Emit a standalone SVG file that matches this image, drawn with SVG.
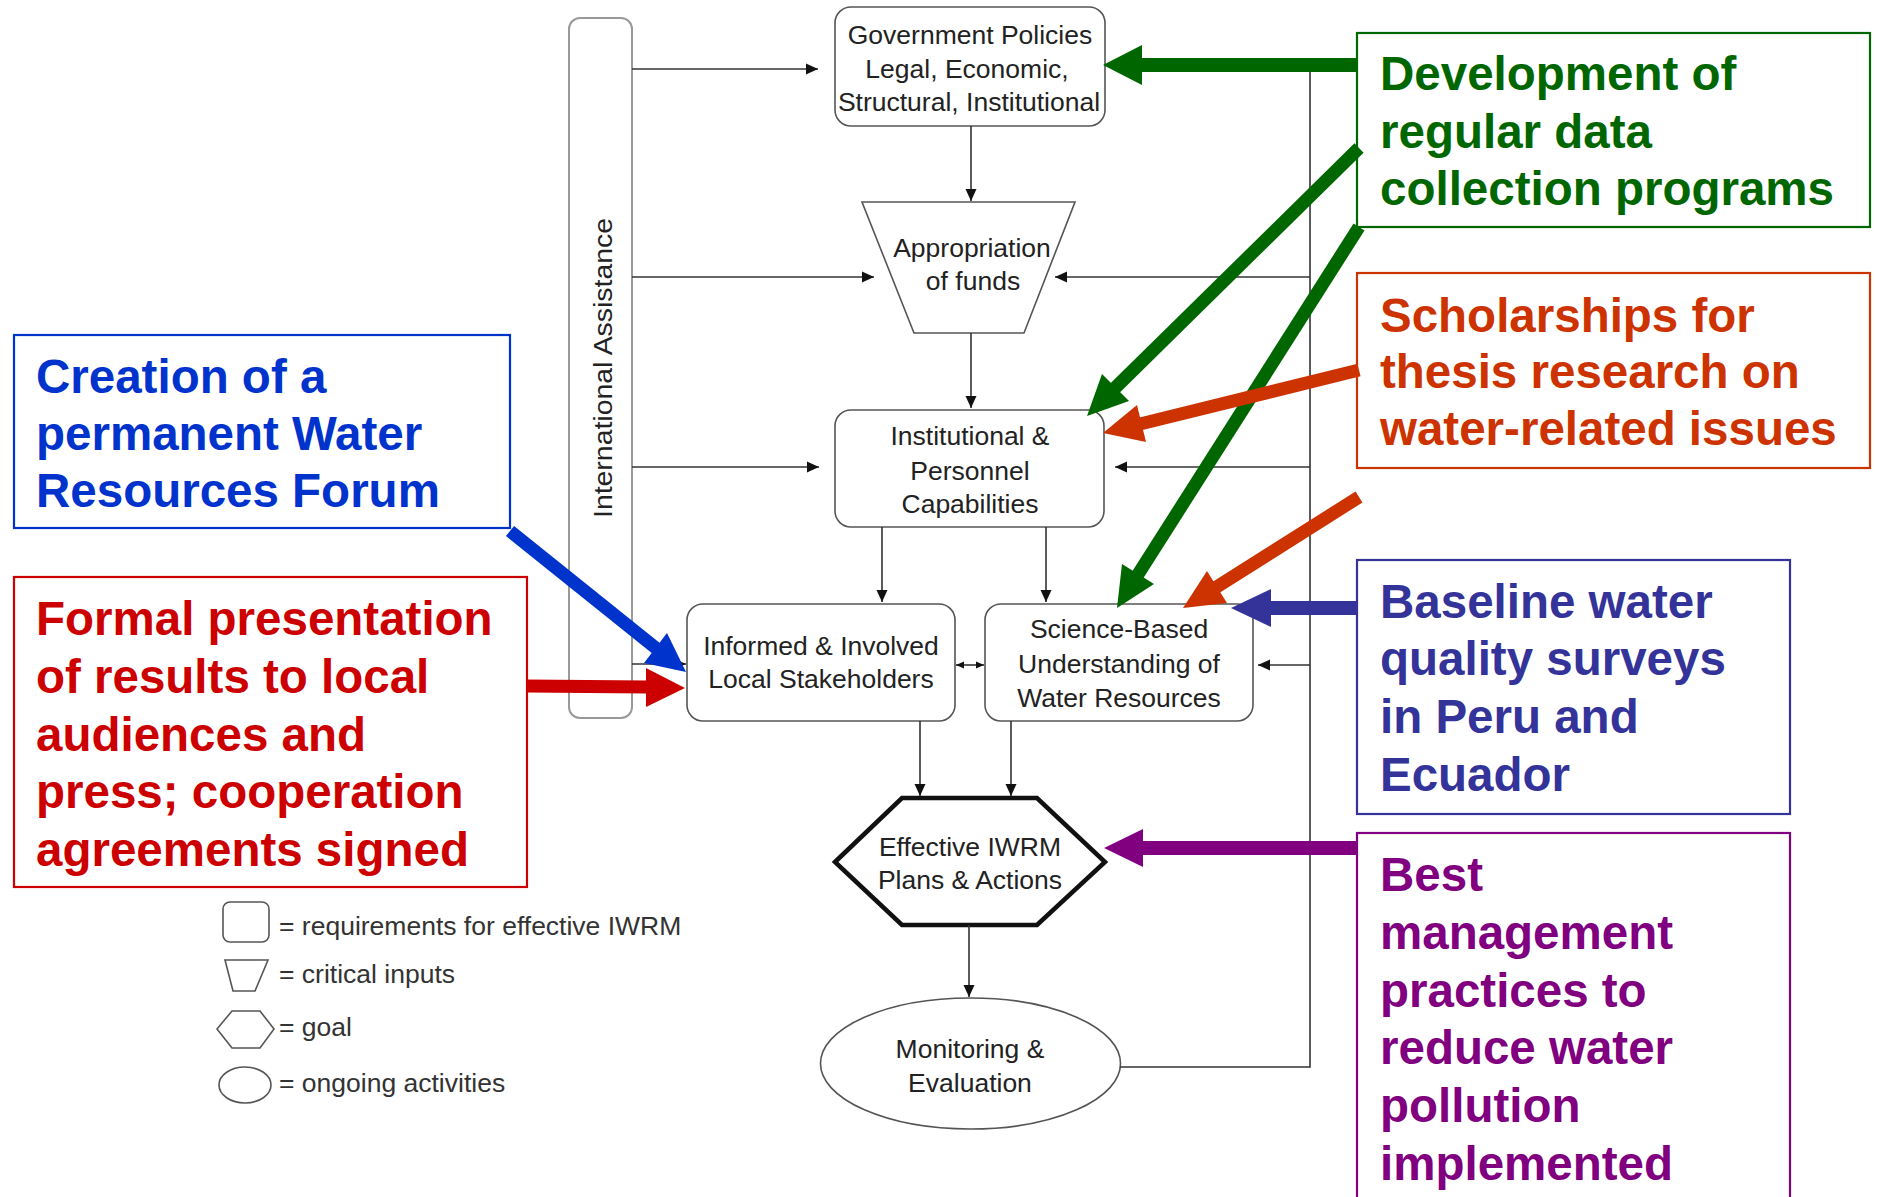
<svg xmlns="http://www.w3.org/2000/svg" width="1877" height="1197" viewBox="0 0 1877 1197">
<style>
.box{fill:#fff;stroke:#555;stroke-width:1.6}
.t{font-family:"Liberation Sans",Arial,sans-serif;font-size:26.5px;fill:#222;text-anchor:middle}
.lt{font-family:"Liberation Sans",Arial,sans-serif;font-size:26.5px;fill:#333}
.lg{fill:#fff;stroke:#555;stroke-width:1.6}
.con{stroke:#333;stroke-width:1.6;fill:none}
.b{font-family:"Liberation Sans",Arial,sans-serif;font-size:47.5px;font-weight:bold}
.nb{fill:#fff;stroke-width:2.2}
</style>
<defs>
<marker id="ah" markerUnits="userSpaceOnUse" markerWidth="12" markerHeight="12" viewBox="0 0 12 12" refX="12" refY="6" orient="auto">
<path d="M0,0.5 L12,6 L0,11.5 z" fill="#111"/>
</marker>
<marker id="ahs" markerUnits="userSpaceOnUse" markerWidth="8" markerHeight="8" viewBox="0 0 8 8" refX="8" refY="4" orient="auto-start-reverse">
<path d="M0,0.5 L8,4 L0,7.5 z" fill="#111"/>
</marker>
</defs>
<rect width="1877" height="1197" fill="#fff"/>

<g id="intl-assistance">
<rect x="569" y="18" width="63" height="700" rx="11" fill="#fff" stroke="#999" stroke-width="2"/>
<text class="t" transform="translate(612,368) rotate(-90)" textLength="300" lengthAdjust="spacingAndGlyphs" style="font-size:26px">International Assistance</text>
</g>

<g id="gov-policies">
<rect class="box" x="835" y="7" width="270" height="119" rx="16"/>
<text class="t" x="970" y="44">Government Policies</text>
<text class="t" x="967" y="78">Legal, Economic,</text>
<text class="t" x="969" y="111">Structural, Institutional</text>
</g>

<g id="appropriation">
<polygon class="box" points="862,202 1075,202 1024,333 914,333"/>
<text class="t" x="972" y="257">Appropriation</text>
<text class="t" x="973" y="290">of funds</text>
</g>

<g id="institutional">
<rect class="box" x="835" y="410" width="269" height="117" rx="16"/>
<text class="t" x="970" y="445">Institutional &amp;</text>
<text class="t" x="970" y="480">Personnel</text>
<text class="t" x="970" y="513">Capabilities</text>
</g>

<g id="informed">
<rect class="box" x="687" y="604" width="268" height="117" rx="16"/>
<text class="t" x="821" y="655">Informed &amp; Involved</text>
<text class="t" x="821" y="688">Local Stakeholders</text>
</g>

<g id="science">
<rect class="box" x="985" y="604" width="268" height="117" rx="16"/>
<text class="t" x="1119" y="638">Science-Based</text>
<text class="t" x="1119" y="673">Understanding of</text>
<text class="t" x="1119" y="707">Water Resources</text>
</g>

<g id="iwrm">
<polygon points="835,862 902,798 1037,798 1105,862 1037,925 902,925" fill="#fff" stroke="#111" stroke-width="4.5" stroke-linejoin="miter"/>
<text class="t" x="970" y="856">Effective IWRM</text>
<text class="t" x="970" y="889">Plans &amp; Actions</text>
</g>

<g id="monitoring">
<ellipse class="box" cx="970.5" cy="1063.5" rx="150" ry="65.5"/>
<text class="t" x="970" y="1058">Monitoring &amp;</text>
<text class="t" x="970" y="1092">Evaluation</text>
</g>

<g id="legend">
<rect class="lg" x="223" y="902" width="46" height="40" rx="7"/>
<text class="lt" x="279" y="935">= requirements for effective IWRM</text>
<polygon class="lg" points="225,960 268,960 255,991 233,991"/>
<text class="lt" x="279" y="983">= critical inputs</text>
<polygon class="lg" points="217,1029 232,1011 260,1011 274,1029 260,1048 232,1048"/>
<text class="lt" x="279" y="1036">= goal</text>
<ellipse class="lg" cx="245" cy="1085" rx="26" ry="18"/>
<text class="lt" x="279" y="1092">= ongoing activities</text>
</g>

<g id="connectors">
<line class="con" x1="632" y1="69" x2="818" y2="69" marker-end="url(#ah)"/>
<line class="con" x1="632" y1="277" x2="874" y2="277" marker-end="url(#ah)"/>
<line class="con" x1="632" y1="467" x2="819" y2="467" marker-end="url(#ah)"/>
<line class="con" x1="632" y1="664" x2="686" y2="664" marker-end="url(#ah)"/>
<line class="con" x1="971" y1="126" x2="971" y2="201" marker-end="url(#ah)"/>
<line class="con" x1="971" y1="333" x2="971" y2="408" marker-end="url(#ah)"/>
<path class="con" d="M1120,1067 H1310 V66"/>
<line class="con" x1="1310" y1="277" x2="1055" y2="277" marker-end="url(#ah)"/>
<line class="con" x1="1310" y1="467" x2="1115" y2="467" marker-end="url(#ah)"/>
<line class="con" x1="1310" y1="665" x2="1258" y2="665" marker-end="url(#ah)"/>
<line class="con" x1="882" y1="527" x2="882" y2="602" marker-end="url(#ah)"/>
<line class="con" x1="1046" y1="527" x2="1046" y2="602" marker-end="url(#ah)"/>
<line class="con" x1="920" y1="721" x2="920" y2="796" marker-end="url(#ah)"/>
<line class="con" x1="1011" y1="721" x2="1011" y2="796" marker-end="url(#ah)"/>
<line class="con" x1="969" y1="925" x2="969" y2="997" marker-end="url(#ah)"/>
<line class="con" x1="956" y1="665" x2="984" y2="665" marker-start="url(#ahs)" marker-end="url(#ahs)"/>
</g>

<g id="box-data">
<rect class="nb" x="1357" y="33" width="513" height="194" stroke="#006600"/>
<text class="b" fill="#006600" x="1380" y="90">Development of</text>
<text class="b" fill="#006600" x="1380" y="148">regular data</text>
<text class="b" fill="#006600" x="1380" y="205">collection programs</text>
</g>

<g id="box-scholarships">
<rect class="nb" x="1357" y="273" width="513" height="195" stroke="#CC3300"/>
<text class="b" fill="#CC3300" x="1380" y="332">Scholarships for</text>
<text class="b" fill="#CC3300" x="1380" y="388">thesis research on</text>
<text class="b" fill="#CC3300" x="1380" y="445">water-related issues</text>
</g>

<g id="box-baseline">
<rect class="nb" x="1357" y="560" width="433" height="254" stroke="#333399"/>
<text class="b" fill="#333399" x="1380" y="618">Baseline water</text>
<text class="b" fill="#333399" x="1380" y="675">quality surveys</text>
<text class="b" fill="#333399" x="1380" y="733">in Peru and</text>
<text class="b" fill="#333399" x="1380" y="791">Ecuador</text>
</g>

<g id="box-bmp">
<rect class="nb" x="1357" y="833" width="433" height="380" stroke="#800080"/>
<text class="b" fill="#800080" x="1380" y="891">Best</text>
<text class="b" fill="#800080" x="1380" y="949">management</text>
<text class="b" fill="#800080" x="1380" y="1007">practices to</text>
<text class="b" fill="#800080" x="1380" y="1064">reduce water</text>
<text class="b" fill="#800080" x="1380" y="1122">pollution</text>
<text class="b" fill="#800080" x="1380" y="1180">implemented</text>
</g>

<g id="box-forum">
<rect class="nb" x="14" y="335" width="496" height="193" stroke="#0033CC"/>
<text class="b" fill="#0033CC" x="36" y="393">Creation of a</text>
<text class="b" fill="#0033CC" x="36" y="450">permanent Water</text>
<text class="b" fill="#0033CC" x="36" y="507">Resources Forum</text>
</g>

<g id="box-presentation">
<rect class="nb" x="14" y="577" width="513" height="310" stroke="#CC0000"/>
<text class="b" fill="#CC0000" x="36" y="635">Formal presentation</text>
<text class="b" fill="#CC0000" x="36" y="693">of results to local</text>
<text class="b" fill="#CC0000" x="36" y="751">audiences and</text>
<text class="b" fill="#CC0000" x="36" y="808">press; cooperation</text>
<text class="b" fill="#CC0000" x="36" y="866">agreements signed</text>
</g>

<g id="annotation-arrows">
<g fill="#006600" stroke="#006600">
<line x1="1357" y1="65" x2="1140" y2="65" stroke-width="14"/>
<polygon stroke="none" points="1103,65 1142,45 1142,85"/>
<line x1="1359" y1="148" x2="1114" y2="389" stroke-width="13"/>
<polygon stroke="none" points="1087,416 1102,374 1129,401"/>
<line x1="1359" y1="227" x2="1137" y2="576" stroke-width="13"/>
<polygon stroke="none" points="1117,608 1122,564 1154,584"/>
</g>
<g fill="#CC3300" stroke="#CC3300">
<line x1="1359" y1="370" x2="1140" y2="424" stroke-width="13"/>
<polygon stroke="none" points="1103,433 1137,405 1146,442"/>
<line x1="1359" y1="497" x2="1215" y2="588" stroke-width="13"/>
<polygon stroke="none" points="1183,608 1207,571 1227,603"/>
</g>
<g fill="#333399" stroke="#333399">
<line x1="1357" y1="608" x2="1269" y2="608" stroke-width="14"/>
<polygon stroke="none" points="1231,608 1271,589 1271,627"/>
</g>
<g fill="#800080" stroke="#800080">
<line x1="1357" y1="848" x2="1142" y2="848" stroke-width="14"/>
<polygon stroke="none" points="1104,848 1143,829 1143,867"/>
</g>
<g fill="#0033CC" stroke="#0033CC">
<line x1="510" y1="531" x2="657" y2="649" stroke-width="13"/>
<polygon stroke="none" points="686,672 644,663 667,633"/>
</g>
<g fill="#CC0000" stroke="#CC0000">
<line x1="527" y1="686" x2="647" y2="687" stroke-width="13"/>
<polygon stroke="none" points="685,688 646,668 646,707"/>
</g>
</g>
</svg>
